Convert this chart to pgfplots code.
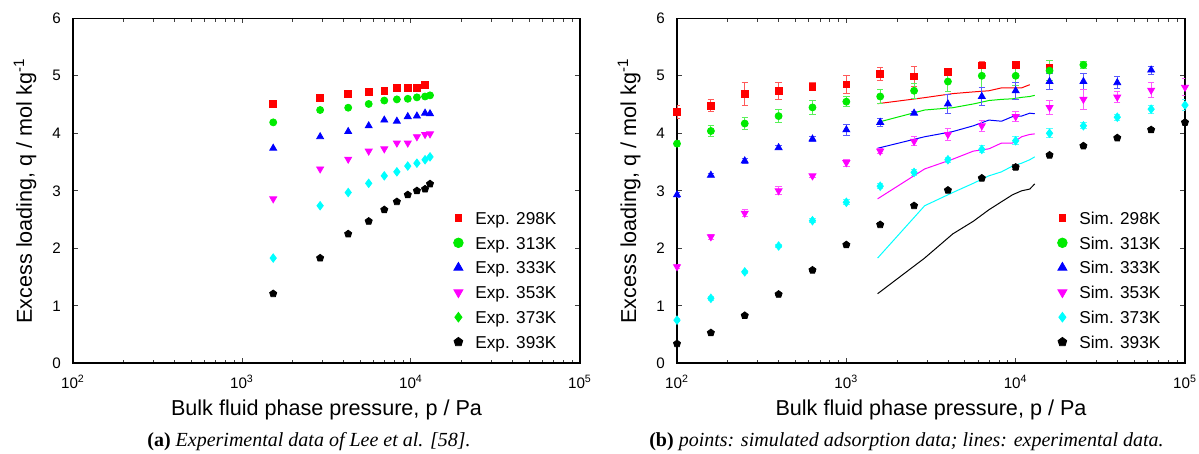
\documentclass[border=0pt]{standalone}
\usepackage{fontspec}
\setmainfont{Liberation Sans}
\newfontfamily\capfont{Liberation Serif}
\usepackage{pgfplots}
\usepackage{pgfplotstable}
\pgfplotsset{compat=1.18}
\definecolor{colR}{RGB}{255,0,0}
\definecolor{colG}{RGB}{0,235,0}
\definecolor{colB}{RGB}{0,0,255}
\definecolor{colM}{RGB}{255,0,255}
\definecolor{colC}{RGB}{0,255,255}
\definecolor{colK}{RGB}{0,0,0}

% experimental data (Lee et al.)
\pgfplotstableread{
p q
1530 4.515
2900 4.62
4250 4.69
5620 4.72
6950 4.74
8250 4.79
9570 4.79
10840 4.79
12110 4.845
}\expA
\pgfplotstableread{
p q
1530 4.19
2900 4.405
4250 4.445
5620 4.51
6950 4.57
8250 4.59
9570 4.60
10840 4.625
12110 4.64
12960 4.66
}\expB
\pgfplotstableread{
p q
1530 3.74
2900 3.94
4250 4.03
5620 4.13
6950 4.23
8250 4.21
9570 4.29
10840 4.30
12110 4.35
12960 4.34
}\expC
\pgfplotstableread{
p q
1530 2.86
2900 3.38
4250 3.55
5620 3.69
6950 3.73
8250 3.83
9570 3.83
10840 3.94
12110 3.98
12960 3.99
}\expD
\pgfplotstableread{
p q
1530 1.83
2900 2.74
4250 2.97
5620 3.13
6950 3.26
8250 3.33
9570 3.43
10840 3.48
12110 3.54
12960 3.59
}\expE
\pgfplotstableread{
p q
1530 1.21
2900 1.83
4250 2.25
5620 2.47
6950 2.67
8250 2.81
9570 2.93
10840 3.00
12110 3.03
12960 3.12
}\expF

% simulated data
\pgfplotstableread{
p q e
100 4.37 0.11
158.5 4.48 0.10
251.2 4.68 0.20
398.1 4.74 0.15
631.0 4.81 0.07
1000 4.85 0.15
1585 5.03 0.12
2512 4.99 0.18
3981 5.07 0.05
6310 5.18 0.06
10000 5.19 0.04
15849 5.14 0.05
}\simA
\pgfplotstableread{
p q e
100 3.82 0.05
158.5 4.04 0.10
251.2 4.17 0.10
398.1 4.30 0.12
631.0 4.45 0.12
1000 4.55 0.09
1585 4.64 0.13
2512 4.74 0.13
3981 4.90 0.17
6310 5.00 0.20
10000 5.00 0.17
15849 5.09 0.17
25119 5.19 0.06
}\simB
\pgfplotstableread{
p q e
100 2.93 0.04
158.5 3.27 0.03
251.2 3.52 0.04
398.1 3.75 0.03
631.0 3.90 0.04
1000 4.06 0.10
1585 4.19 0.07
2512 4.35 0.03
3981 4.51 0.17
6310 4.64 0.15
10000 4.74 0.15
15849 4.90 0.14
25119 4.90 0.14
39811 4.88 0.10
63096 5.10 0.07
}\simC
\pgfplotstableread{
p q e
100 1.68 0.03
158.5 2.20 0.04
251.2 2.61 0.06
398.1 3.00 0.07
631.0 3.26 0.03
1000 3.49 0.06
1585 3.69 0.04
2512 3.86 0.08
3981 3.98 0.10
6310 4.13 0.10
10000 4.29 0.09
15849 4.45 0.12
25119 4.59 0.17
39811 4.63 0.09
63096 4.75 0.13
100000 4.80 0.15
}\simD
\pgfplotstableread{
p q e
100 0.75 0.03
158.5 1.13 0.03
251.2 1.59 0.03
398.1 2.04 0.03
631.0 2.48 0.03
1000 2.80 0.04
1585 3.08 0.04
2512 3.32 0.05
3981 3.54 0.04
6310 3.72 0.06
10000 3.87 0.07
15849 4.00 0.08
25119 4.13 0.05
39811 4.28 0.05
63096 4.42 0.07
100000 4.49 0.10
}\simE
\pgfplotstableread{
p q e
100 0.34 0.02
158.5 0.53 0.02
251.2 0.83 0.02
398.1 1.20 0.02
631.0 1.62 0.02
1000 2.06 0.02
1585 2.41 0.03
2512 2.74 0.03
3981 3.01 0.03
6310 3.22 0.03
10000 3.41 0.04
15849 3.62 0.03
25119 3.78 0.03
39811 3.92 0.03
63096 4.06 0.04
100000 4.19 0.04
}\simF

\tikzset{
  sq/.style={only marks, mark=square*, mark size=1.67pt, colR, mark options={fill=colR, draw=colR}},
  ci/.style={only marks, mark=*, mark size=1.75pt, colG, mark options={fill=colG, draw=colG}},
  tu/.style={only marks, mark=triangle*, mark size=2.0pt, colB, mark options={fill=colB, draw=colB}},
  td/.style={only marks, mark=triangle*, mark size=2.0pt, colM, mark options={fill=colM, draw=colM, rotate=180}},
  di/.style={only marks, mark=diamond*, mark size=2.1pt, colC, mark options={fill=colC, draw=colC}},
  dg/.style={only marks, mark=diamond*, mark size=2.4pt, colG, mark options={fill=colG, draw=colG}},
  pe/.style={only marks, mark=pentagon*, mark size=1.85pt, colK, mark options={fill=colK, draw=colK}},
}

\pgfplotsset{
  legend image code/.code={\path[draw=none, fill=none] (0pt,-3pt) (8pt,3pt); \draw[#1] plot coordinates {(4pt,0pt)};},
}

\begin{document}
\begin{tikzpicture}
\useasboundingbox (0pt,0pt) rectangle (599.5pt,227pt);

% ---------- (a) ----------
\begin{semilogxaxis}[
    scale only axis, width=253.5pt, height=172.5pt,
    at={(36.5pt,45.35pt)}, anchor=south west,
    xmin=100, xmax=100000, ymin=0, ymax=6,
    ytick={0,1,2,3,4,5,6},
    yticklabels={0,1,2,3,4,5,6},
    xtick={100,1000,10000,100000},
    xticklabels={10\textsuperscript{2},10\textsuperscript{3},10\textsuperscript{4},10\textsuperscript{5}},
    tick align=inside,
    major tick length=2.4pt, minor tick length=1.6pt,
    tick style={black!75, line width=0.5pt},
    axis line style={line width=0.8pt},
    tick label style={font=\fontsize{7.6}{8}\selectfont},
    xticklabel style={yshift=-2.5pt},
    yticklabel style={xshift=-2.5pt},
    label style={font=\fontsize{10.8}{12}\selectfont},
    xlabel={Bulk fluid phase pressure, p / Pa},
    ylabel={Excess loading, q / mol kg\textsuperscript{-1}},
    xlabel style={at={(axis description cs:0.5,-0.1499)}, anchor=base},
    ylabel style={at={(axis description cs:-0.0809,0.5)}, anchor=base},
    legend cell align=left,
    legend style={draw=none, fill=none, inner sep=0pt, column sep=4.5pt, row sep=6.2pt,
      font=\fontsize{8.6}{10}\selectfont,
      nodes={inner sep=0pt, text height=6.2pt, text depth=0pt},
      at={(axis description cs:0.7436,0.2414)}, anchor=west},
  ]
\addplot[sq, forget plot] table[x=p,y=q] {\expA};
\addplot[ci, forget plot] table[x=p,y=q] {\expB};
\addplot[tu, forget plot] table[x=p,y=q] {\expC};
\addplot[td, forget plot] table[x=p,y=q] {\expD};
\addplot[di, forget plot] table[x=p,y=q] {\expE};
\addplot[pe, forget plot] table[x=p,y=q] {\expF};
\addlegendimage{sq}
\addlegendentry{Exp. 298K}
\addlegendimage{ci, mark size=2.4pt}
\addlegendentry{Exp. 313K}
\addlegendimage{tu, mark size=2.6pt}
\addlegendentry{Exp. 333K}
\addlegendimage{td, mark size=2.6pt}
\addlegendentry{Exp. 353K}
\addlegendimage{dg}
\addlegendentry{Exp. 373K}
\addlegendimage{pe, mark size=2.3pt}
\addlegendentry{Exp. 393K}
\end{semilogxaxis}

% ---------- (b) ----------
\begin{semilogxaxis}[
    scale only axis, width=254pt, height=172.5pt,
    at={(338.5pt,45.35pt)}, anchor=south west,
    xmin=100, xmax=100000, ymin=0, ymax=6,
    ytick={0,1,2,3,4,5,6},
    yticklabels={0,1,2,3,4,5,6},
    xtick={100,1000,10000,100000},
    xticklabels={10\textsuperscript{2},10\textsuperscript{3},10\textsuperscript{4},10\textsuperscript{5}},
    tick align=inside,
    major tick length=2.4pt, minor tick length=1.6pt,
    tick style={black!75, line width=0.5pt},
    axis line style={line width=0.8pt},
    tick label style={font=\fontsize{7.6}{8}\selectfont},
    xticklabel style={yshift=-2.5pt},
    yticklabel style={xshift=-2.5pt},
    label style={font=\fontsize{10.8}{12}\selectfont},
    xlabel={Bulk fluid phase pressure, p / Pa},
    ylabel={Excess loading, q / mol kg\textsuperscript{-1}},
    xlabel style={at={(axis description cs:0.5,-0.1499)}, anchor=base},
    ylabel style={at={(axis description cs:-0.0807,0.5)}, anchor=base},
    legend cell align=left,
    legend style={draw=none, fill=none, inner sep=0pt, column sep=4.5pt, row sep=6.2pt,
      font=\fontsize{8.6}{10}\selectfont,
      nodes={inner sep=0pt, text height=6.2pt, text depth=0pt},
      at={(axis description cs:0.7421,0.2414)}, anchor=west},
  ]
\addplot[colR, line width=0.5pt, forget plot] table[x=p,y=q] {\expA};
\addplot[colG, line width=0.5pt, forget plot] table[x=p,y=q] {\expB};
\addplot[colB, line width=0.5pt, forget plot] table[x=p,y=q] {\expC};
\addplot[colM, line width=0.5pt, forget plot] table[x=p,y=q] {\expD};
\addplot[colC, line width=0.5pt, forget plot] table[x=p,y=q] {\expE};
\addplot[colK, line width=0.5pt, forget plot] table[x=p,y=q] {\expF};
\addplot[sq, forget plot, error bars/.cd, y dir=both, y explicit,
  error bar style={line width=0.5pt, colR!65},
  error mark options={rotate=90, mark size=1.6pt, line width=0.5pt, colR!65}]
  table[x=p,y=q,y error=e] {\simA};
\addplot[ci, forget plot, error bars/.cd, y dir=both, y explicit,
  error bar style={line width=0.5pt, colG!65},
  error mark options={rotate=90, mark size=1.6pt, line width=0.5pt, colG!65}]
  table[x=p,y=q,y error=e] {\simB};
\addplot[tu, forget plot, error bars/.cd, y dir=both, y explicit,
  error bar style={line width=0.5pt, colB!65},
  error mark options={rotate=90, mark size=1.6pt, line width=0.5pt, colB!65}]
  table[x=p,y=q,y error=e] {\simC};
\addplot[td, forget plot, error bars/.cd, y dir=both, y explicit,
  error bar style={line width=0.5pt, colM!65},
  error mark options={rotate=90, mark size=1.6pt, line width=0.5pt, colM!65}]
  table[x=p,y=q,y error=e] {\simD};
\addplot[di, forget plot, error bars/.cd, y dir=both, y explicit,
  error bar style={line width=0.5pt, colC!65},
  error mark options={rotate=90, mark size=1.6pt, line width=0.5pt, colC!65}]
  table[x=p,y=q,y error=e] {\simE};
\addplot[pe, forget plot, error bars/.cd, y dir=both, y explicit,
  error bar style={line width=0.5pt, colK!65},
  error mark options={rotate=90, mark size=1.6pt, line width=0.5pt, colK!65}]
  table[x=p,y=q,y error=e] {\simF};
\addlegendimage{sq}
\addlegendentry{Sim. 298K}
\addlegendimage{ci, mark size=2.4pt}
\addlegendentry{Sim. 313K}
\addlegendimage{tu, mark size=2.6pt}
\addlegendentry{Sim. 333K}
\addlegendimage{td, mark size=2.6pt}
\addlegendentry{Sim. 353K}
\addlegendimage{di, mark size=2.4pt}
\addlegendentry{Sim. 373K}
\addlegendimage{pe, mark size=2.3pt}
\addlegendentry{Sim. 393K}
\end{semilogxaxis}

\node[anchor=base, font=\capfont\fontsize{10}{12}\selectfont] at (154.5pt,3.5pt)
  {\textbf{(a)} \textit{Experimental data of Lee et al. [58].}};
\node[anchor=base, font=\capfont\fontsize{10}{12}\selectfont] at (453.25pt,3.5pt)
  {\textbf{(b)} \textit{points: simulated adsorption data; lines: experimental data.}};
\end{tikzpicture}
\end{document}
